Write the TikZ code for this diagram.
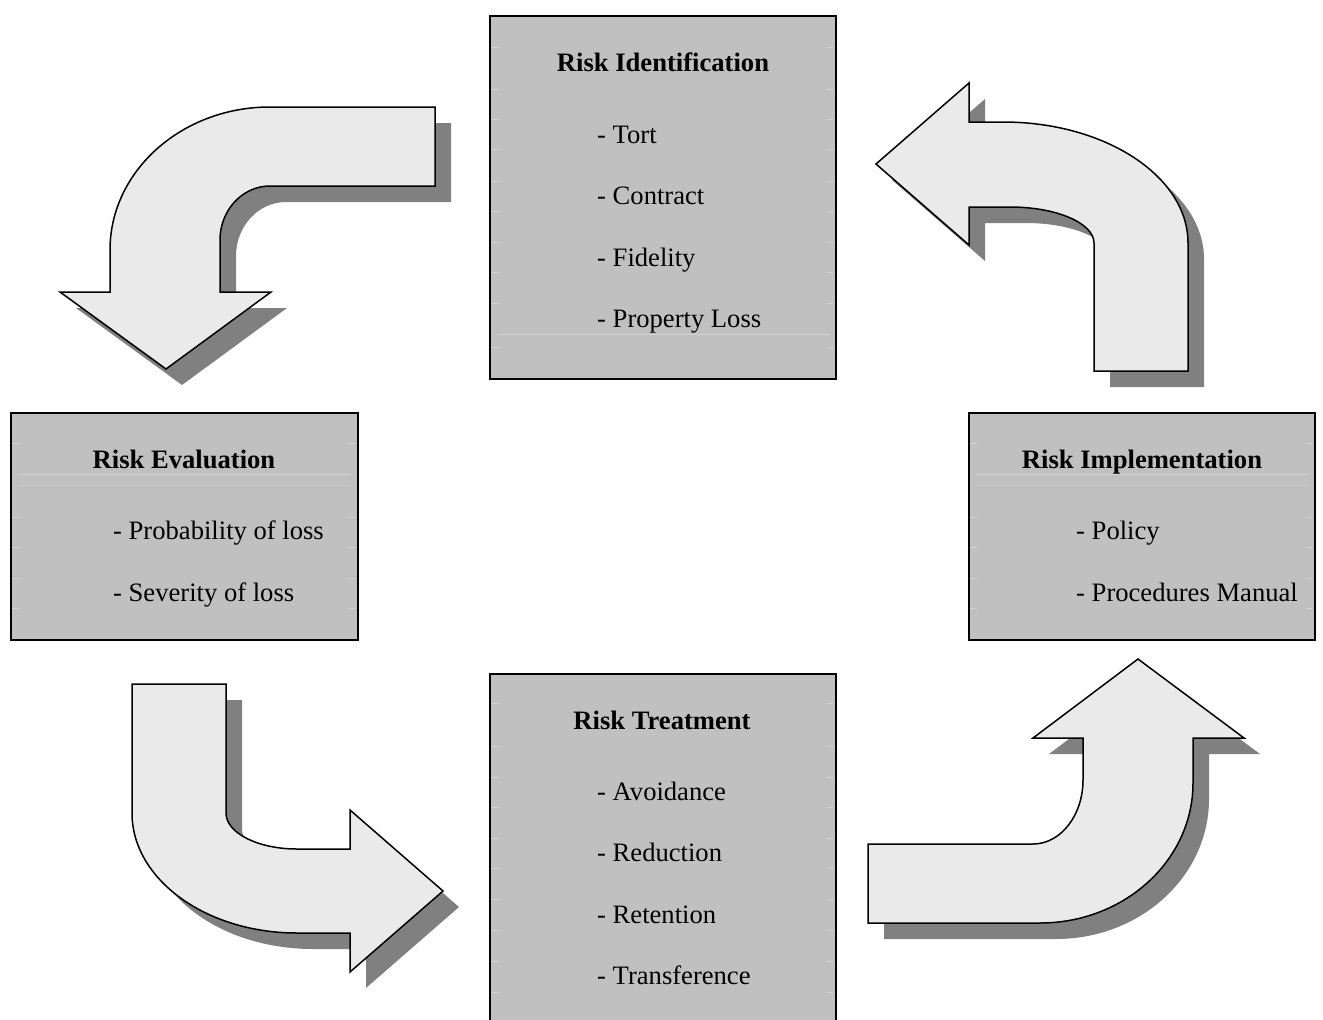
\documentclass[tikz,border=0pt]{standalone}
\usepackage{fontspec}
\setmainfont{Liberation Serif}
\definecolor{boxgray}{HTML}{C0C0C0}
\definecolor{arrowfill}{HTML}{EAEAEA}
\definecolor{shadowgray}{HTML}{808080}
\definecolor{tickgray}{HTML}{D2D2D2}
\begin{document}
\begin{tikzpicture}[x=1pt,y=-1pt,
  box/.style={draw=black, line width=2pt, fill=boxgray, anchor=north west, inner sep=0pt},
  boxtitle/.style={font=\fontsize{26.6}{30}\selectfont\bfseries, anchor=base, inner sep=0pt},
  boxitem/.style={font=\fontsize{26.6}{30}\selectfont, anchor=base west, inner sep=0pt},
  bentarrow/.style={draw=black, line width=1.5pt, fill=arrowfill, line join=miter,
    preaction={fill=shadowgray, draw=none, transform canvas={shift={(16pt,-16pt)}}}},
  tickline/.style={draw=tickgray, line width=0.8pt}]
\useasboundingbox (0,0) rectangle (1323,1020);
\clip (0,0) rectangle (1323,1020);

% ---------- boxes ----------
\node[box, minimum width=346pt, minimum height=363pt] (ident) at (489,15) {};
\node[box, minimum width=347pt, minimum height=227pt] (eval) at (10,412) {};
\node[box, minimum width=346pt, minimum height=227pt] (impl) at (968,412) {};
\node[box, minimum width=346pt, minimum height=370pt] (treat) at (489,673) {};

% faint row marks
\foreach \yy in {47,89,119,149,181,211,242,272,303,347} {
  \draw[tickline] (491,\yy) -- ++(8,0);
  \draw[tickline] (833,\yy) -- ++(-6,0);
}
\draw[tickline] (497,334) -- (829,334);
\foreach \yy in {703,746,777,807,838,868,899,930,961,992} {
  \draw[tickline] (491,\yy) -- ++(8,0);
  \draw[tickline] (833,\yy) -- ++(-6,0);
}
\foreach \xl/\xr in {12/355, 970/1312} {
  \foreach \yy in {443,517,547,578,608} {
    \draw[tickline] (\xl,\yy) -- ++(7,0);
    \draw[tickline] (\xr,\yy) -- ++(-6,0);
  }
  \draw[tickline] (\xl+6,474) -- (\xr-4,474);
  \draw[tickline, draw=tickgray!50!boxgray] (\xl+6,485) -- (\xr-4,485);
}

% ---------- texts ----------
\node[boxtitle] (identT) at (663,71) {Risk Identification};
\node[boxitem] (ident1) at (597,143) {- Tort};
\node[boxitem] (ident2) at (597,204.5) {- Contract};
\node[boxitem] (ident3) at (597,266) {- Fidelity};
\node[boxitem] (ident4) at (597,327.5) {- Property Loss};

\node[boxtitle] (evalT) at (184,468) {Risk Evaluation};
\node[boxitem] (eval1) at (113,539) {- Probability of loss};
\node[boxitem] (eval2) at (113,601) {- Severity of loss};

\node[boxtitle] (implT) at (1142,468) {Risk Implementation};
\node[boxitem] (impl1) at (1076,539) {- Policy};
\node[boxitem] (impl2) at (1076,601) {- Procedures Manual};

\node[boxtitle] (treatT) at (662,729) {Risk Treatment};
\node[boxitem] (treat1) at (597,800) {- Avoidance};
\node[boxitem] (treat2) at (597,861.5) {- Reduction};
\node[boxitem] (treat3) at (597,923) {- Retention};
\node[boxitem] (treat4) at (597,984.5) {- Transference};

% ---------- curved arrows ----------
% identification -> evaluation (points down)
\draw[bentarrow] (435,107) -- (270,107) .. controls (181.7,107) and (110,171.1) .. (110,250)
  -- (110,292) -- (60,292) -- (166,369) -- (271,292) -- (220,292) -- (220,240)
  .. controls (220,210.2) and (242.4,186) .. (270,186) -- (435,186) -- cycle;
% implementation -> identification (points left)
\draw[bentarrow] (1094,371) -- (1094,243) .. controls (1094,223.1) and (1056.4,207) .. (1010,207)
  -- (969,207) -- (969,245) -- (876,164) -- (969,83) -- (969,122) -- (1003,122)
  .. controls (1105.1,122) and (1188,176.2) .. (1188,243) -- (1188,371) -- cycle;
% evaluation -> treatment (points right)
\draw[bentarrow] (132,684) -- (226,684) -- (226,813) .. controls (226,832.9) and (257.8,849) .. (297,849)
  -- (350,849) -- (350,810) -- (443,891) -- (350,972) -- (350,933) -- (297,933)
  .. controls (205.9,933) and (132,879.2) .. (132,813) -- cycle;
% treatment -> implementation (points up)
\draw[bentarrow] (868,844) -- (1033,844) .. controls (1060.6,844) and (1083,815.3) .. (1083,780)
  -- (1083,738) -- (1033,738) -- (1138,659) -- (1244,738) -- (1193,738) -- (1193,783)
  .. controls (1193,860.3) and (1124.5,923) .. (1040,923) -- (868,923) -- cycle;
\end{tikzpicture}
\end{document}
